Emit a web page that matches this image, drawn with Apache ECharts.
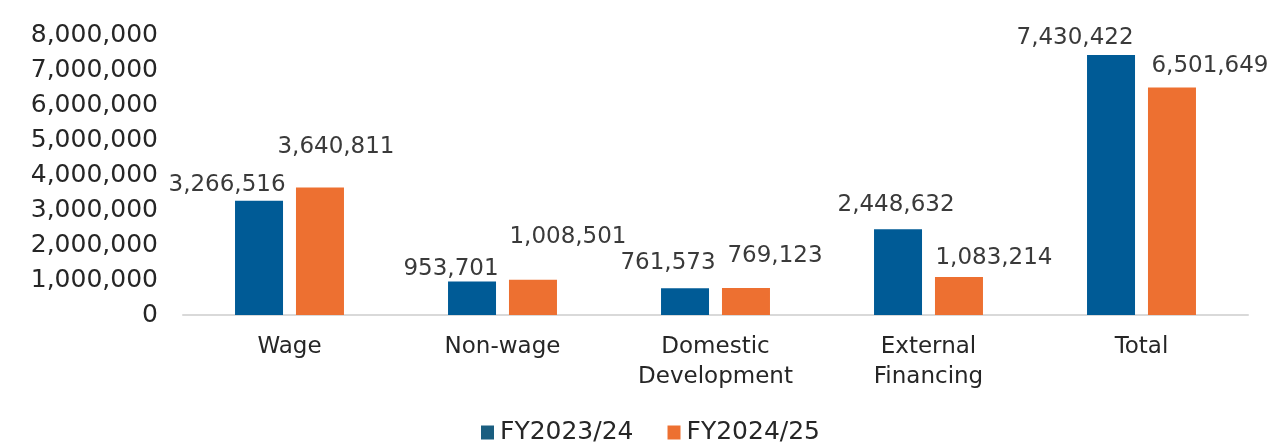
<!DOCTYPE html>
<html>
<head>
<meta charset="utf-8">
<script src="https://cdn.jsdelivr.net/npm/echarts@6/dist/echarts.min.js"></script>
<style>
  html, body { margin: 0; padding: 0; background: #fff; }
  #chart { width: 1271px; height: 447px; }
</style>
</head>
<body>
<div id="chart"></div>
<script>
// data
const categories = ['Wage', 'Non-wage', 'Domestic\nDevelopment', 'External\nFinancing', 'Total'];
const seriesNames = ['FY2023/24', 'FY2024/25'];
const fy2324 = [3266516, 953701, 761573, 2448632, 7430422];
const fy2425 = [3640811, 1008501, 769123, 1083214, 6501649];
const yTicks = [0, 1000000, 2000000, 3000000, 4000000, 5000000, 6000000, 7000000, 8000000];

// label nudges (the original labels were dragged around by hand)
const nudgeBlue = [[-32, -4], [-21, -1], [-17, -13], [-2, -12], [-36, -5]];
const nudgeOrange = [[16, -29], [35, -31], [29, -20], [35, -7], [38, -9]];

const font = 'DejaVu Sans';
const fmt = v => v.toLocaleString('en-US');

function points (values, nudge) {
  return values.map((v, i) => ({
    value: v,
    label: { offset: nudge[i] }
  }));
}

const labelStyle = {
  show: true,
  position: 'top',
  distance: 0,
  fontFamily: font,
  fontSize: 23,
  lineHeight: 24,
  color: '#3a3a3a',
  formatter: p => fmt(p.value)
};

const chart = echarts.init(document.getElementById('chart'));
chart.setOption({
  animation: false,
  grid: { left: 183, right: 23, top: 35, bottom: 132 },
  legend: {
    bottom: -3,
    left: 476,
    itemWidth: 13,
    itemHeight: 14,
    itemGap: 34,
    icon: 'rect',
    textStyle: { fontFamily: font, fontSize: 25, color: '#262626', padding: [0, 0, 0, 1] },
    data: [
      { name: seriesNames[0], itemStyle: { color: '#1a5e80' } },
      { name: seriesNames[1], itemStyle: { color: '#ed7031' } }
    ]
  },
  xAxis: {
    type: 'category',
    data: categories,
    axisLine: { lineStyle: { color: '#d9d9d9', width: 2 } },
    axisTick: { show: false },
    axisLabel: {
      fontFamily: font,
      fontSize: 23,
      lineHeight: 30,
      color: '#262626',
      margin: 17
    }
  },
  yAxis: {
    type: 'value',
    min: yTicks[0],
    max: yTicks[yTicks.length - 1],
    interval: yTicks[1] - yTicks[0],
    splitLine: { show: false },
    axisLine: { show: false },
    axisTick: { show: false },
    axisLabel: {
      fontFamily: font,
      fontSize: 25,
      color: '#262626',
      margin: 25,
      formatter: v => fmt(v)
    }
  },
  series: [
    {
      name: seriesNames[0],
      type: 'bar',
      barWidth: 48,
      barGap: '27%',
      itemStyle: { color: '#005b96' },
      label: labelStyle,
      data: points(fy2324, nudgeBlue)
    },
    {
      name: seriesNames[1],
      type: 'bar',
      barWidth: 48,
      barGap: '27%',
      itemStyle: { color: '#ed7031' },
      label: labelStyle,
      data: points(fy2425, nudgeOrange)
    }
  ]
});
</script>
</body>
</html>
